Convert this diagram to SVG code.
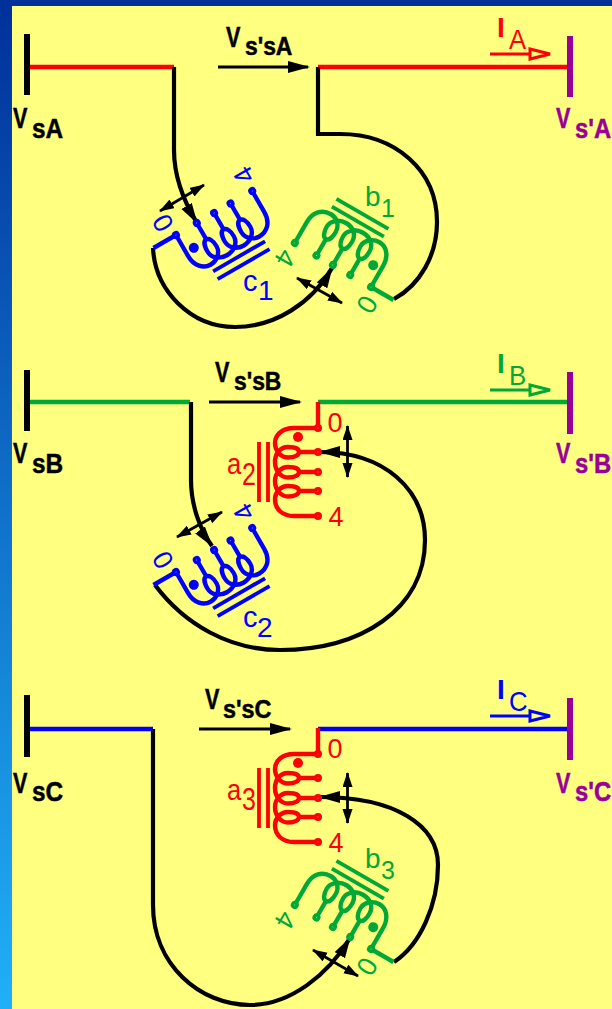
<svg xmlns="http://www.w3.org/2000/svg" width="612" height="1009" viewBox="0 0 612 1009">
<style>
text{font-family:"Liberation Sans",Arial,sans-serif}
.bold{font-weight:bold}
.big{font-size:28px}
.vv{font-size:30px}
.sub{font-size:26px}
.w{fill:none;stroke:currentColor;stroke-width:4.4}
.core{fill:none;stroke:currentColor;stroke-width:3.8}
.term{fill:#FFFF80;stroke:currentColor;stroke-width:3.6}
.dot{fill:currentColor}
.tx{fill:currentColor;font-size:27px;text-anchor:middle}
.wire{fill:none;stroke-width:4.6}
.bk{fill:none;stroke:#000;stroke-width:4.2}
.flow{fill:none;stroke:#000;stroke-width:3.2;marker-end:url(#flowHead)}
.dbl{fill:none;stroke:#000;stroke-width:2.8;marker-start:url(#dblHead);marker-end:url(#dblHead)}
.tap{marker-end:url(#tapHead)}
.ia{fill:none;stroke-width:3}
.red{color:#FF0000;fill:#FF0000}
.grn{color:#00A838;fill:#00A838}
.blu{color:#0000FF;fill:#0000FF}
.blk{fill:#000;stroke:#000;stroke-width:.5}
.mag{fill:#990099;stroke:#990099;stroke-width:.5}
</style>
<defs>
<linearGradient id="side" x1="0" y1="0" x2="0" y2="1">
<stop offset="0" stop-color="#00309A"/><stop offset="1" stop-color="#20B0F8"/>
</linearGradient>
<marker id="flowHead" markerUnits="userSpaceOnUse" markerWidth="24" markerHeight="14" refX="20" refY="6" orient="auto" viewBox="0 0 24 14"><path d="M0,0 L22,6 L0,12 Z" fill="#000"/></marker>
<marker id="dblHead" markerUnits="userSpaceOnUse" markerWidth="20" markerHeight="12" refX="14" refY="5" orient="auto-start-reverse" viewBox="0 0 20 12"><path d="M0,0 L15,5 L0,10 Z" fill="#000"/></marker>
<marker id="tapHead" markerUnits="userSpaceOnUse" markerWidth="26" markerHeight="14" refX="20" refY="6" orient="auto" viewBox="0 0 26 14"><path d="M0,0 L21,6 L0,12 Z" fill="#000"/></marker>
<g id="winding">
<path class="w" d="M0,0 V-26 M0,0 H-24 C-36,0 -43,7 -43,15 C-43,23 -37,29.5 -30,29.5 C-23,29.5 -19,27 -19,24 C-19,21 -23,19 -30,19 C-38,19 -43,26 -43,34 C-43,43 -37,49.5 -30,49.5 C-23,49.5 -19,47 -19,44 C-19,41 -23,39 -30,39 C-38,39 -43,46 -43,53 C-43,62 -37,68.5 -30,68.5 C-23,68.5 -19,66 -19,63 C-19,60 -23,58 -30,58 C-38,58 -43,65 -43,71 C-43,81 -36,88 -24,88 H0 M-19,24 H0 M-19,44 H0 M-19,63 H0"/>
<path class="core" d="M-59,14 V74 M-50,14 V74"/>
<circle class="dot" cx="-20" cy="9" r="5"/>
<circle class="term" cx="0" cy="0" r="2.2"/><circle class="term" cx="0" cy="24" r="2.2"/><circle class="term" cx="0" cy="44" r="2.2"/><circle class="term" cx="0" cy="63" r="2.2"/><circle class="term" cx="0" cy="88" r="2.2"/>
</g>
</defs>
<g id="background">
<rect width="612" height="1009" fill="url(#side)"/>
<rect x="0" y="0" width="612" height="6" fill="#00309A"/>
<rect x="12" y="6" width="600" height="1003" fill="#FFFF80"/>
</g>
<g id="connectors">
<path class="wire" stroke="#FF0000" d="M30,67 H174 M318,67 H567"/>
<path class="wire" stroke="#00A838" d="M30,402 H190 M318,402 H567"/>
<path class="wire" stroke="#0000FF" d="M30,729 H153 M318,729 H567"/>
<path class="flow" d="M218,67 H308"/>
<path class="flow" d="M209,402 H300"/>
<path class="flow" d="M199,729 H290"/>
<path class="bk tap" d="M174,67 V150 C174,180 186,205 197,223"/>
<path class="bk" d="M318,67 V134 H340 C395,134 437,170 437,222 C437,255 420,285 394,299"/>
<path class="bk tap" d="M153,248 C155,290 190,327 235,327 C275,327 312,303 332,268"/>
<path class="dbl" d="M160,211 L204,185"/>
<path class="dbl" d="M297,278 L342,303"/>
<path class="bk tap" d="M191,402 V480 C191,505 200,530 212,546"/>
<path class="bk tap" d="M155,585 C185,625 230,650 280,650 C360,650 425,610 425,540 C425,490 385,452 320,452"/>
<path class="dbl" d="M177,537 L222,512"/>
<path class="dbl" d="M347.5,426 V477"/>
<path class="bk tap" d="M153,729 V905 C153,965 200,1005 250,1005 C290,1005 328,975 350,938"/>
<path class="bk tap" d="M394,962 C420,945 438,905 438,865 C438,825 395,797 320,797"/>
<path class="dbl" d="M313,950 L358,976"/>
<path class="dbl" d="M347.5,773 V823"/>
</g>
<g id="bus-sA"><rect x="24" y="34" width="6" height="61" fill="#000"/>
<text class="bold vv blk" transform="matrix(.72 0 0 1 13 128)">V</text><text class="bold big blk" transform="matrix(.87 0 0 1 32 138)">sA</text></g>
<g id="bus-sB"><rect x="24" y="370" width="6" height="61" fill="#000"/>
<text class="bold vv blk" transform="matrix(.72 0 0 1 13 463)">V</text><text class="bold big blk" transform="matrix(.87 0 0 1 32 473)">sB</text></g>
<g id="bus-sC"><rect x="24" y="695" width="6" height="62" fill="#000"/>
<text class="bold vv blk" transform="matrix(.72 0 0 1 13 793)">V</text><text class="bold big blk" transform="matrix(.87 0 0 1 32 801)">sC</text></g>
<g id="bus-s1A"><rect x="567" y="36" width="6" height="61" fill="#990099"/>
<text class="bold vv mag" transform="matrix(.72 0 0 1 556 128)">V</text><text class="bold big mag" transform="matrix(.85 0 0 1 575 138)">s'A</text></g>
<g id="bus-s1B"><rect x="567" y="372" width="6" height="62" fill="#990099"/>
<text class="bold vv mag" transform="matrix(.72 0 0 1 556 463)">V</text><text class="bold big mag" transform="matrix(.85 0 0 1 575 473)">s'B</text></g>
<g id="bus-s1C"><rect x="567" y="698" width="6" height="62" fill="#990099"/>
<text class="bold vv mag" transform="matrix(.72 0 0 1 556 793)">V</text><text class="bold big mag" transform="matrix(.85 0 0 1 575 801)">s'C</text></g>
<g id="label-VssA"><text class="bold vv blk" transform="matrix(.72 0 0 1 226 47)">V</text><text class="bold sub blk" transform="matrix(.88 0 0 1 245 55)">s'sA</text></g>
<g id="label-VssB"><text class="bold vv blk" transform="matrix(.72 0 0 1 215 382)">V</text><text class="bold sub blk" transform="matrix(.88 0 0 1 234 390)">s'sB</text></g>
<g id="label-VssC"><text class="bold vv blk" transform="matrix(.72 0 0 1 205 709)">V</text><text class="bold sub blk" transform="matrix(.9 0 0 1 223 718)">s'sC</text></g>
<g id="current-A" class="red"><text class="bold big" x="497" y="37">I</text><text class="big" transform="matrix(.92 0 0 1 509 49)">A</text>
<path class="ia" stroke="#FF0000" d="M490,54 H529 M530,49 L550,54 L530,59 Z"/></g>
<g id="current-B" class="grn"><text class="bold big" x="497" y="373">I</text><text class="big" transform="matrix(.92 0 0 1 509 385)">B</text>
<path class="ia" stroke="#00A838" d="M490,390 H529 M530,385 L550,390 L530,395 Z"/></g>
<g id="current-C" class="blu"><text class="bold big" x="497" y="699">I</text><text class="big" transform="matrix(.92 0 0 1 509 711)">C</text>
<path class="ia" stroke="#0000FF" d="M490,716 H529 M530,711 L550,716 L530,721 Z"/></g>
<g id="c1" class="blu">
<g transform="translate(176,235) rotate(-120)"><use href="#winding"/><text class="tx" x="17" y="4">0</text><text class="tx" x="18" y="98">4</text></g>
<text style="font-size:29px" x="243" y="291">c</text><text style="font-size:28px" x="258" y="300">1</text></g>
<g id="b1" class="grn">
<g transform="translate(371,287) rotate(120)"><use href="#winding"/><text class="tx" x="17" y="4">0</text><text class="tx" x="18" y="98">4</text></g>
<text style="font-size:28px" x="365" y="206">b</text><text style="font-size:25px" x="381" y="217">1</text></g>
<g id="a2" class="red">
<g transform="translate(318,428)"><use href="#winding"/><text class="tx" x="17" y="4">0</text><text class="tx" x="18" y="98">4</text></g>
<text style="font-size:30px" transform="matrix(.85 0 0 1 227 474)">a</text><text style="font-size:32px" transform="matrix(.78 0 0 1 242 485)">2</text></g>
<g id="c2" class="blu">
<g transform="translate(176,572) rotate(-120)"><use href="#winding"/><text class="tx" x="17" y="4">0</text><text class="tx" x="18" y="98">4</text></g>
<text style="font-size:29px" x="243" y="627">c</text><text style="font-size:28px" x="257" y="637">2</text></g>
<g id="a3" class="red">
<g transform="translate(318,754)"><use href="#winding"/><text class="tx" x="17" y="4">0</text><text class="tx" x="18" y="98">4</text></g>
<text style="font-size:30px" transform="matrix(.85 0 0 1 227 800)">a</text><text style="font-size:32px" transform="matrix(.78 0 0 1 242 810)">3</text></g>
<g id="b3" class="grn">
<g transform="translate(371,949) rotate(120)"><use href="#winding"/><text class="tx" x="17" y="4">0</text><text class="tx" x="18" y="98">4</text></g>
<text style="font-size:28px" x="365" y="868">b</text><text style="font-size:25px" x="381" y="879">3</text></g>
</svg>
